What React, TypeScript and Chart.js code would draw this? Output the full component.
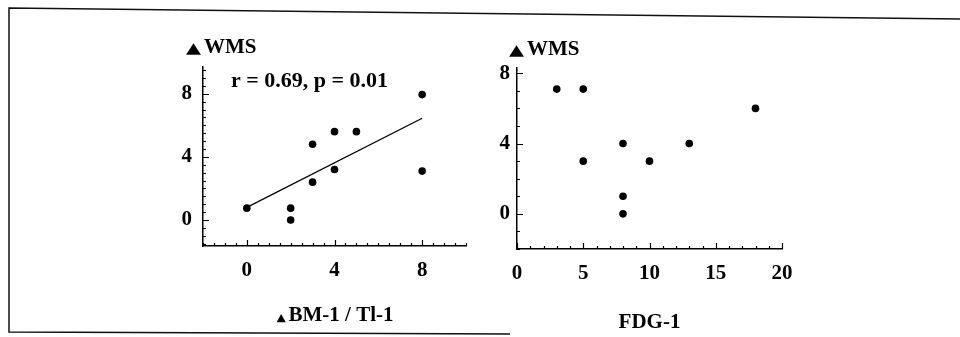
import { useEffect, useRef } from 'react';
import { Chart, registerables } from 'chart.js';
Chart.register(...registerables);

// Left panel: ΔBM-1 / Tl-1 vs ΔWMS
const bmX = [0, 2, 2, 3, 3, 4, 4, 5, 8, 8];
const bmY = [0.75, 0.75, 0, 4.8, 2.4, 5.6, 3.2, 5.6, 7.95, 3.1];
// Regression line end points
const fitX = [0, 8];
const fitY = [0.8, 6.45];
// Right panel: FDG-1 vs ΔWMS
const fdgX = [3, 5, 5, 8, 8, 8, 10, 13, 18];
const fdgY = [7.1, 7.1, 3, 4, 1, 0, 3, 4, 6];

const leftXTicks = [0, 4, 8];
const leftYTicks = [0, 4, 8];
const rightXTicks = [0, 5, 10, 15, 20];
const rightYTicks = [0, 4, 8];

const statText = 'r = 0.69, p = 0.01';
const yTitle = 'WMS';
const leftXTitle = 'BM-1 / Tl-1';
const rightXTitle = 'FDG-1';
const TRI = '\u25B2';

const FONT = "'Liberation Serif', 'Times New Roman', serif";
const SANS = "'DejaVu Sans', sans-serif";

function minorTicks(min: number, max: number, step: number) {
  const out: number[] = [];
  for (let v = min; v <= max + 1e-9; v += step) out.push(Math.round(v * 1000) / 1000);
  return out;
}

function tickPlugin(xStep: number, yStep: number, xMajor: number[], yMajor: number[]) {
  return {
    id: 'inwardTicks',
    afterDatasetsDraw(chart: any) {
      const ctx = chart.ctx;
      const xs = chart.scales.x;
      const ys = chart.scales.y;
      const { left, bottom } = chart.chartArea;
      ctx.save();
      ctx.strokeStyle = '#000';
      ctx.lineWidth = 1.2;
      ctx.beginPath();
      for (const v of minorTicks(xs.min, xs.max, xStep)) {
        const px = Math.round(xs.getPixelForValue(v)) + 0.5;
        const len = xMajor.includes(v) ? 6 : 3;
        ctx.moveTo(px, bottom);
        ctx.lineTo(px, bottom - len);
      }
      for (const v of minorTicks(Math.ceil(ys.min / yStep) * yStep, ys.max, yStep)) {
        const py = Math.round(ys.getPixelForValue(v)) + 0.5;
        const len = yMajor.includes(v) ? 6 : 3;
        ctx.moveTo(left, py);
        ctx.lineTo(left + len, py);
      }
      ctx.stroke();
      ctx.restore();
    },
  };
}

function drawTri(ctx: CanvasRenderingContext2D, x: number, baseline: number, size: number, sx: number) {
  ctx.save();
  ctx.font = `${size}px ${SANS}`;
  ctx.textBaseline = 'alphabetic';
  ctx.textAlign = 'left';
  ctx.fillStyle = '#000';
  ctx.translate(x, baseline);
  ctx.scale(sx, 1);
  ctx.fillText(TRI, 0, 0);
  const w = ctx.measureText(TRI).width * sx;
  ctx.restore();
  return w;
}

function labelPlugin(kind: 'left' | 'right') {
  return {
    id: 'labels_' + kind,
    afterDraw(chart: any) {
      const ctx = chart.ctx as CanvasRenderingContext2D;
      const { left, right } = chart.chartArea;
      ctx.save();
      ctx.fillStyle = '#000';
      ctx.textBaseline = 'alphabetic';
      if (kind === 'left') {
        // frame
        ctx.strokeStyle = '#111';
        ctx.lineWidth = 1.5;
        ctx.beginPath();
        ctx.moveTo(960, 19);
        ctx.lineTo(9, 8);
        ctx.lineTo(9, 332);
        ctx.lineTo(510, 334);
        ctx.stroke();
        const tw = drawTri(ctx, left - 17, 53, 15, 1.3);
        ctx.font = `bold 21px ${FONT}`;
        ctx.textAlign = 'left';
        ctx.fillText(yTitle, left - 17 + tw + 3, 53);
        ctx.font = `bold 22px ${FONT}`;
        ctx.fillText(statText, left + 28, 87);
        // x title
        ctx.font = `bold 21px ${FONT}`;
        const textW = ctx.measureText(leftXTitle).width;
        const triW = 11;
        const total = textW + triW;
        const cx = (left + right) / 2;
        const x0 = cx - total / 2;
        drawTri(ctx, x0, 321, 11, 1.1);
        ctx.font = `bold 21px ${FONT}`;
        ctx.textAlign = 'left';
        ctx.fillText(leftXTitle, x0 + triW + 1, 321);
      } else {
        const tw = drawTri(ctx, left - 8, 55, 15, 1.3);
        ctx.font = `bold 21px ${FONT}`;
        ctx.textAlign = 'left';
        ctx.fillText(yTitle, left - 8 + tw + 3, 55);
        ctx.textAlign = 'center';
        ctx.fillText(rightXTitle, (left + right) / 2, 328);
      }
      ctx.restore();
    },
  };
}

function axisOpts(min: number, max: number, ticks: number[], fit: (s: any) => void, pad: number) {
  return {
    type: 'linear' as const,
    min,
    max,
    afterBuildTicks: (s: any) => {
      s.ticks = ticks.map((v) => ({ value: v }));
    },
    afterFit: fit,
    grid: { display: false, drawTicks: false },
    border: { display: true, color: '#000', width: 1.5 },
    ticks: {
      padding: pad,
      color: '#000',
      autoSkip: false,
      maxRotation: 0,
      font: { family: FONT, size: 21, weight: 'bold' as const },
    },
  };
}

export default function App() {
  const leftRef = useRef<HTMLCanvasElement>(null);
  const rightRef = useRef<HTMLCanvasElement>(null);

  useEffect(() => {
    document.body.style.margin = '0';
    const left = new Chart(leftRef.current!, {
      type: 'scatter',
      data: {
        datasets: [
          {
            type: 'line',
            data: fitX.map((x, i) => ({ x, y: fitY[i] })),
            borderColor: '#000',
            borderWidth: 1.3,
            pointRadius: 0,
            fill: false,
          } as any,
          {
            data: bmX.map((x, i) => ({ x, y: bmY[i] })),
            backgroundColor: '#000',
            borderWidth: 0,
            pointRadius: 3.8,
          },
        ],
      },
      options: {
        animation: false,
        responsive: false,
        layout: { padding: { left: 163, right: 494, top: 67, bottom: 0 } },
        plugins: { legend: { display: false }, tooltip: { enabled: false } },
        scales: {
          x: axisOpts(-2, 10, leftXTicks, (s) => { s.height = 91; }, 12),
          y: axisOpts(-1.65, 9.7, leftYTicks, (s) => { s.width = 40; }, 11),
        },
      } as any,
      plugins: [tickPlugin(0.5, 0.5, leftXTicks, leftYTicks), labelPlugin('left')],
    });

    const right = new Chart(rightRef.current!, {
      type: 'scatter',
      data: {
        datasets: [
          {
            data: fdgX.map((x, i) => ({ x, y: fdgY[i] })),
            backgroundColor: '#000',
            borderWidth: 0,
            pointRadius: 3.8,
          },
        ],
      },
      options: {
        animation: false,
        responsive: false,
        layout: { padding: { left: 477, right: 178, top: 68, bottom: 0 } },
        plugins: { legend: { display: false }, tooltip: { enabled: false } },
        scales: {
          x: axisOpts(0, 20, rightXTicks, (s) => { s.height = 88; }, 12),
          y: axisOpts(-2, 8.3, rightYTicks, (s) => { s.width = 40; }, 7),
        },
      } as any,
      plugins: [tickPlugin(1, 1, rightXTicks, rightYTicks), labelPlugin('right')],
    });

    return () => {
      left.destroy();
      right.destroy();
    };
  }, []);

  const cs: any = { position: 'absolute', left: 0, top: 0, width: 960, height: 337 };
  return (
    <div style={{ position: 'fixed', left: 0, top: 0, width: 960, height: 337, background: '#fff' }}>
      <canvas ref={leftRef} width={960} height={337} style={cs} />
      <canvas ref={rightRef} width={960} height={337} style={cs} />
    </div>
  );
}
